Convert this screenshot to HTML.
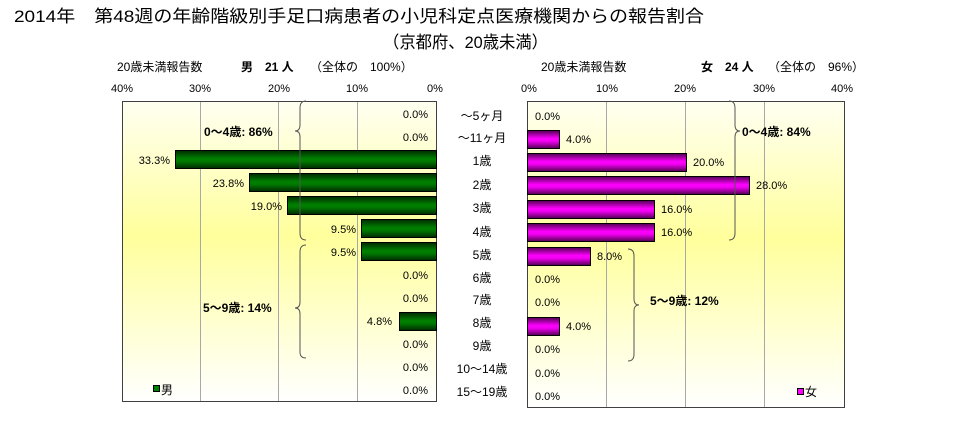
<!DOCTYPE html>
<html><head><meta charset="utf-8"><style>
html,body{margin:0;padding:0;background:#fff}
svg{display:block;font-family:"Liberation Sans","Noto Sans CJK JP",sans-serif}
</style></head><body>
<svg width="968" height="443" viewBox="0 0 968 443" xmlns="http://www.w3.org/2000/svg">
<defs>
<linearGradient id="bg" x1="0" y1="0" x2="0" y2="1">
<stop offset="0" stop-color="#fffff2"/><stop offset="0.45" stop-color="#ffff9c"/><stop offset="1" stop-color="#ffffff"/>
</linearGradient>
<linearGradient id="gr" x1="0" y1="0" x2="0" y2="1">
<stop offset="0" stop-color="#002a00"/><stop offset="0.45" stop-color="#008000"/><stop offset="0.6" stop-color="#007a00"/><stop offset="1" stop-color="#002a00"/>
</linearGradient>
<linearGradient id="mg" x1="0" y1="0" x2="0" y2="1">
<stop offset="0" stop-color="#500050"/><stop offset="0.45" stop-color="#ff00ff"/><stop offset="0.6" stop-color="#f000f0"/><stop offset="1" stop-color="#500050"/>
</linearGradient>
</defs>
<text x="14" y="22" font-size="17" textLength="690" lengthAdjust="spacingAndGlyphs">2014年　第48週の年齢階級別手足口病患者の小児科定点医療機関からの報告割合</text>
<text x="383" y="48" font-size="17" textLength="165" lengthAdjust="spacingAndGlyphs">（京都府、20歳未満）</text>

<g font-size="12">
<text x="117" y="71">20歳未満報告数</text>
<text x="241" y="71" font-weight="bold">男　21 人</text>
<text x="310" y="71">（全体の　100%）</text>
<text x="541" y="71">20歳未満報告数</text>
<text x="701" y="71" font-weight="bold">女　24 人</text>
<text x="768" y="71">（全体の　96%）</text>
</g>
<g font-size="11" text-anchor="middle">
<text x="122" y="92">40%</text><text x="200" y="92">30%</text><text x="279" y="92">20%</text><text x="357" y="92">10%</text><text x="435" y="92">0%</text>
<text x="529" y="92">0%</text><text x="607" y="92">10%</text><text x="685" y="92">20%</text><text x="764" y="92">30%</text><text x="842" y="92">40%</text>
</g>

<!-- left panel -->
<rect x="122" y="101" width="314" height="300" fill="url(#bg)"/>
<g stroke="#a8a8a8" stroke-width="1"><line x1="200.5" y1="101" x2="200.5" y2="401"/><line x1="278.5" y1="101" x2="278.5" y2="401"/><line x1="357.5" y1="101" x2="357.5" y2="401"/></g>
<rect x="122.5" y="101.5" width="314" height="300" fill="none" stroke="#404040"/>
<g stroke="#000" stroke-width="1" fill="url(#gr)">
<rect x="175.5" y="150.5" width="261" height="18"/>
<rect x="249.5" y="173.5" width="187" height="18"/>
<rect x="287.5" y="196.5" width="149" height="18"/>
<rect x="361.5" y="219.5" width="75" height="18"/>
<rect x="361.5" y="242.5" width="75" height="18"/>
<rect x="399.5" y="312.5" width="37" height="18"/>
</g>
<g font-size="11" text-anchor="end">
<text x="428" y="118">0.0%</text><text x="428" y="141">0.0%</text><text x="170" y="164">33.3%</text>
<text x="244" y="187">23.8%</text><text x="282" y="210">19.0%</text><text x="356" y="233">9.5%</text>
<text x="356" y="256">9.5%</text><text x="428" y="279">0.0%</text><text x="428" y="302">0.0%</text>
<text x="392" y="325">4.8%</text><text x="428" y="348">0.0%</text><text x="428" y="371">0.0%</text><text x="428" y="394">0.0%</text>
</g>
<g fill="none" stroke="#555" stroke-width="1">
<path d="M306,101 Q300,101 300,108 L300,125 Q300,131 295,131 Q300,131 300,137 L300,233 Q300,240 306,240"/>
<path d="M306,245 Q300,245 300,252 L300,302 Q300,308 295,308 Q300,308 300,314 L300,352 Q300,358 306,358"/>
</g>
<g font-size="12" font-weight="bold">
<text x="204" y="136">0～4歳: 86%</text>
<text x="203" y="312">5～9歳: 14%</text>
</g>
<rect x="153.5" y="385.5" width="6" height="6" fill="#008000" stroke="#000"/>
<text x="161" y="394" font-size="12">男</text>

<!-- categories -->
<g font-size="12" text-anchor="middle">
<text x="482" y="120">～5ヶ月</text><text x="482" y="142">～11ヶ月</text><text x="482" y="165">1歳</text>
<text x="482" y="189">2歳</text><text x="482" y="212">3歳</text><text x="482" y="236">4歳</text>
<text x="482" y="259">5歳</text><text x="482" y="282">6歳</text><text x="482" y="304">7歳</text>
<text x="482" y="327">8歳</text><text x="482" y="350">9歳</text><text x="482" y="373">10～14歳</text><text x="482" y="396">15～19歳</text>
</g>

<!-- right panel -->
<rect x="527" y="101" width="317" height="306" fill="url(#bg)"/>
<g stroke="#a8a8a8" stroke-width="1"><line x1="606.5" y1="101" x2="606.5" y2="407"/><line x1="685.5" y1="101" x2="685.5" y2="407"/><line x1="764.5" y1="101" x2="764.5" y2="407"/></g>
<rect x="527.5" y="101.5" width="317" height="306" fill="none" stroke="#404040"/>
<g stroke="#000" stroke-width="1" fill="url(#mg)">
<rect x="527.5" y="130.5" width="32" height="18"/>
<rect x="527.5" y="153.5" width="159" height="18"/>
<rect x="527.5" y="176.5" width="222" height="18"/>
<rect x="527.5" y="200.5" width="127" height="18"/>
<rect x="527.5" y="223.5" width="127" height="18"/>
<rect x="527.5" y="247.5" width="63" height="18"/>
<rect x="527.5" y="317.5" width="32" height="18"/>
</g>
<g font-size="11">
<text x="535" y="120">0.0%</text><text x="566" y="143">4.0%</text><text x="693" y="166">20.0%</text>
<text x="756" y="189">28.0%</text><text x="661" y="213">16.0%</text><text x="661" y="236">16.0%</text>
<text x="597" y="260">8.0%</text><text x="535" y="283">0.0%</text><text x="535" y="306">0.0%</text>
<text x="566" y="330">4.0%</text><text x="535" y="353">0.0%</text><text x="535" y="377">0.0%</text><text x="535" y="400">0.0%</text>
</g>
<g fill="none" stroke="#555" stroke-width="1">
<path d="M729,101 Q735,101 735,108 L735,125 Q735,131 740,131 Q735,131 735,137 L735,233 Q735,240 729,240"/>
<path d="M628,249 Q634,249 634,256 L634,299 Q634,305 639,305 Q634,305 634,311 L634,354 Q634,361 628,361"/>
</g>
<g font-size="12" font-weight="bold">
<text x="742" y="136">0～4歳: 84%</text>
<text x="650" y="305">5～9歳: 12%</text>
</g>
<rect x="797.5" y="388.5" width="6" height="6" fill="#ff00ff" stroke="#000"/>
<text x="805" y="396" font-size="12">女</text>
</svg>
</body></html>
